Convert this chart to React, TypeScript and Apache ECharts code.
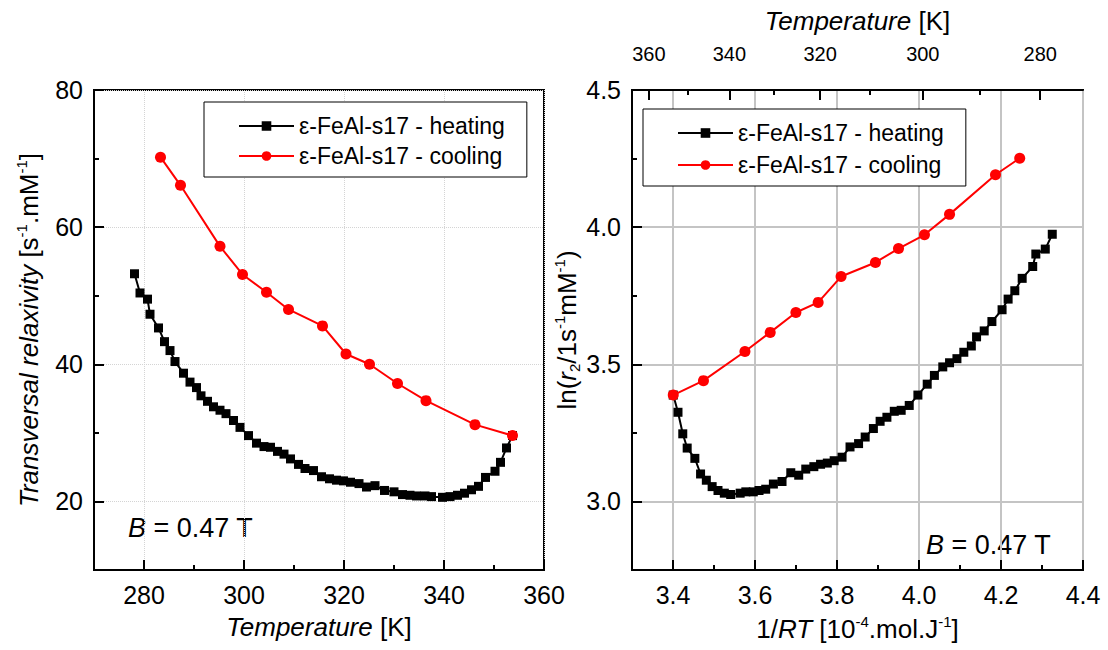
import React, { useEffect, useRef } from "react";
import * as echarts from "echarts";

// ---- data ----
const heatingT = [
  278.1, 279.2, 280.7, 281.2, 282.9, 284.1, 285.2, 286.2, 287.9, 289.2, 290.5, 291.4, 292.7, 293.9,
  295.2, 296.4, 297.9, 299.2, 300.9, 302.5, 304.0, 305.3, 306.7, 308.0, 309.3, 310.9, 312.2, 313.9,
  315.5, 317.1, 318.5, 319.9, 321.3, 323.0, 324.5, 326.2, 328.1, 330.0, 331.7, 333.2, 334.5, 336.2,
  337.5, 339.7, 341.2, 342.7, 344.1, 345.5, 346.9, 348.3, 350.2, 351.3, 352.5, 353.7,
];
const heatingR2 = [
  53.2, 50.4, 49.5, 47.3, 45.3, 43.3, 42.0, 40.4, 38.7, 37.4, 36.6, 35.4, 34.6, 33.8,
  33.3, 32.8, 31.8, 30.8, 29.6, 28.5, 28.0, 27.9, 27.3, 26.9, 26.2, 25.4, 24.8, 24.5,
  23.6, 23.3, 23.1, 23.0, 22.8, 22.6, 22.1, 22.3, 21.6, 21.4, 21.0, 20.9, 20.8, 20.8,
  20.7, 20.6, 20.7, 20.9, 21.2, 21.7, 22.2, 23.5, 24.4, 25.7, 27.8, 29.6,
];
const coolingT = [353.7, 346.2, 336.4, 330.7, 325.1, 320.4, 315.7, 308.9, 304.5, 299.7, 295.2, 287.3, 283.3];
const coolingR2 = [29.6, 31.2, 34.7, 37.2, 40.0, 41.5, 45.6, 48.0, 50.5, 53.1, 57.2, 66.1, 70.2];

const seriesNames = ["ε-FeAl-s17 - heating", "ε-FeAl-s17 - cooling"];

// axis ticks
const leftXMajor = [280, 300, 320, 340, 360];
const leftYMajor = [20, 40, 60, 80];
const rightXMajor = [3.4, 3.6, 3.8, 4.0, 4.2, 4.4];
const rightYMajor = [3.0, 3.5, 4.0, 4.5];
const topTempMajor = [360, 340, 320, 300, 280];
const topTempMinor = [350, 330, 310, 290];

const R = 8.314; // J/(mol K)
const invRT = (t: number) => 1e4 / (R * t); // in 1e-4 mol/J

const FONT = "'Liberation Sans', Arial, sans-serif";

const rich = {
  i: { fontStyle: "italic", fontSize: 26, fontFamily: FONT, color: "#000" },
  sup: { fontSize: 15, verticalAlign: "top", fontFamily: FONT, color: "#000", lineHeight: 30 },
  sub: { fontSize: 15, verticalAlign: "bottom", fontFamily: FONT, color: "#000", lineHeight: 30 },
};

const nameStyle = { fontSize: 26, fontFamily: FONT, color: "#000", rich, lineHeight: 30 };
const labelStyle = (size: number, margin: number) => ({ fontSize: size, fontFamily: FONT, color: "#000", margin });

export default function App() {
  const ref = useRef<HTMLDivElement>(null);
  useEffect(() => {
    if (!ref.current) return;
    const chart = echarts.init(ref.current, undefined, { renderer: "svg" });

    const leftHeat = heatingT.map((t, i) => [t, heatingR2[i]]);
    const leftCool = coolingT.map((t, i) => [t, coolingR2[i]]);
    const rightHeat = heatingT.map((t, i) => [invRT(t), Math.log(heatingR2[i])]);
    const rightCool = coolingT.map((t, i) => [invRT(t), Math.log(coolingR2[i])]);

    const axLine = { show: true, lineStyle: { color: "#000", width: 2 } };
    const noLine = { show: false };

    const option: any = {
      animation: false,
      backgroundColor: "#fff",
      textStyle: { fontFamily: FONT },
      grid: [
        { left: 94, top: 90, width: 450, height: 480, show: true, borderColor: "#000", borderWidth: 2, backgroundColor: "transparent" },
        { left: 632, top: 90, width: 451, height: 480, show: true, borderColor: "#000", borderWidth: 2, backgroundColor: "transparent" },
      ],
      xAxis: [
        {
          gridIndex: 0, type: "value", min: 270, max: 360, position: "bottom",
          axisLine: axLine,
          axisTick: { show: true, inside: true, length: 10, customValues: leftXMajor, lineStyle: { color: "#000", width: 2 } },
          axisLabel: { ...labelStyle(25, 12), customValues: leftXMajor },
          splitLine: { show: true, lineStyle: { color: "#d4d4d4", type: "dotted", width: 1 } },
          name: "{i|Temperature} [K]", nameLocation: "middle", nameGap: 31, nameTextStyle: nameStyle,
        },
        {
          gridIndex: 0, type: "value", min: 270, max: 360, interval: 10, position: "bottom",
          axisLine: noLine, axisLabel: { show: false }, splitLine: { show: false },
          axisTick: { show: true, inside: true, length: 5, lineStyle: { color: "#000", width: 2 } },
        },
        {
          gridIndex: 1, type: "value", min: 3.3, max: 4.4, position: "bottom",
          axisLine: axLine,
          axisTick: { show: true, inside: true, length: 10, customValues: rightXMajor, lineStyle: { color: "#000", width: 2 } },
          axisLabel: { ...labelStyle(25, 12), customValues: rightXMajor, formatter: (v: number) => v.toFixed(1) },
          splitLine: { show: true, lineStyle: { color: "#c4c4c4", type: "solid", width: 2 } },
          name: "1/{i|RT} [10{sup|-4}.mol.J{sup|-1}]", nameLocation: "middle", nameGap: 44, nameTextStyle: nameStyle,
        },
        {
          gridIndex: 1, type: "value", min: 3.3, max: 4.4, interval: 0.1, position: "bottom",
          axisLine: noLine, axisLabel: { show: false }, splitLine: { show: false },
          axisTick: { show: true, inside: true, length: 5, lineStyle: { color: "#000", width: 2 } },
        },
        {
          gridIndex: 1, type: "value", min: 3.3, max: 4.4, position: "top",
          axisLine: axLine,
          axisTick: { show: true, inside: true, length: 10, customValues: topTempMajor.map(invRT), lineStyle: { color: "#000", width: 2 } },
          axisLabel: { ...labelStyle(20, 26), customValues: topTempMajor.map(invRT), formatter: (v: number) => String(Math.round(1e4 / (R * v))) },
          splitLine: { show: false },
          name: "{i|Temperature} [K]", nameLocation: "middle", nameGap: 54, nameTextStyle: nameStyle,
        },
        {
          gridIndex: 1, type: "value", min: 3.3, max: 4.4, position: "top",
          axisLine: noLine, axisLabel: { show: false }, splitLine: { show: false },
          axisTick: { show: true, inside: true, length: 5, customValues: topTempMinor.map(invRT), lineStyle: { color: "#000", width: 2 } },
        },
      ],
      yAxis: [
        {
          gridIndex: 0, type: "value", min: 10, max: 80, position: "left",
          axisLine: axLine,
          axisTick: { show: true, inside: true, length: 10, customValues: leftYMajor, lineStyle: { color: "#000", width: 2 } },
          axisLabel: { ...labelStyle(25, 11), customValues: leftYMajor },
          splitLine: { show: true, lineStyle: { color: "#d4d4d4", type: "dotted", width: 1 } },
          name: "{i|Transversal relaxivity} [s{sup|-1}.mM{sup|-1}]", nameLocation: "middle", nameGap: 50, nameTextStyle: nameStyle,
        },
        {
          gridIndex: 0, type: "value", min: 10, max: 80, interval: 10, position: "left",
          axisLine: noLine, axisLabel: { show: false }, splitLine: { show: false },
          axisTick: { show: true, inside: true, length: 5, lineStyle: { color: "#000", width: 2 } },
        },
        {
          gridIndex: 1, type: "value", min: 2.75, max: 4.5, position: "left",
          axisLine: axLine,
          axisTick: { show: true, inside: true, length: 10, customValues: rightYMajor, lineStyle: { color: "#000", width: 2 } },
          axisLabel: { ...labelStyle(25, 11), customValues: rightYMajor, formatter: (v: number) => v.toFixed(1) },
          splitLine: { show: true, lineStyle: { color: "#c4c4c4", type: "solid", width: 2 } },
          name: "ln({i|r}{sub|2}/1s{sup|-1}mM{sup|-1})", nameLocation: "middle", nameGap: 36, nameTextStyle: nameStyle,
        },
        {
          gridIndex: 1, type: "value", min: 2.75, max: 4.5, interval: 0.25, position: "left",
          axisLine: noLine, axisLabel: { show: false }, splitLine: { show: false },
          axisTick: { show: true, inside: true, length: 5, lineStyle: { color: "#000", width: 2 } },
        },
      ],
      legend: [
        {
          orient: "vertical", left: 204, top: 102, data: seriesNames,
          padding: [11, 22, 8, 34], itemGap: 4, itemWidth: 55, itemHeight: 12,
          borderColor: "#000", borderWidth: 1, backgroundColor: "#fff",
          textStyle: { fontSize: 23, fontFamily: FONT, color: "#000", lineHeight: 26 },
          selectedMode: false,
        },
        {
          orient: "vertical", left: 643, top: 109, data: seriesNames,
          padding: [11, 22, 8, 34], itemGap: 6, itemWidth: 55, itemHeight: 12,
          borderColor: "#000", borderWidth: 1, backgroundColor: "#fff",
          textStyle: { fontSize: 23, fontFamily: FONT, color: "#000", lineHeight: 26 },
          selectedMode: false,
        },
      ],
      graphic: [
        {
          type: "text", x: 128, y: 528,
          style: {
            text: "{b|B} = 0.47 T", fontSize: 27, fontFamily: FONT, fill: "#000", verticalAlign: "middle",
            rich: { b: { fontStyle: "italic", fontSize: 27, fontFamily: FONT, fill: "#000" } },
          },
        },
        {
          type: "text", x: 926, y: 545,
          style: {
            text: "{b|B} = 0.47 T", fontSize: 27, fontFamily: FONT, fill: "#000", verticalAlign: "middle",
            rich: { b: { fontStyle: "italic", fontSize: 27, fontFamily: FONT, fill: "#000" } },
          },
        },
      ],
      series: [
        {
          name: seriesNames[0], type: "line", xAxisIndex: 0, yAxisIndex: 0, data: leftHeat,
          symbol: "rect", symbolSize: 9, itemStyle: { color: "#000" }, lineStyle: { color: "#000", width: 2 },
        },
        {
          name: seriesNames[1], type: "line", xAxisIndex: 0, yAxisIndex: 0, data: leftCool,
          symbol: "circle", symbolSize: 11, itemStyle: { color: "#ff0000" }, lineStyle: { color: "#ff0000", width: 2 },
        },
        {
          name: seriesNames[0], type: "line", xAxisIndex: 2, yAxisIndex: 2, data: rightHeat,
          symbol: "rect", symbolSize: 9, itemStyle: { color: "#000" }, lineStyle: { color: "#000", width: 2 },
        },
        {
          name: seriesNames[1], type: "line", xAxisIndex: 2, yAxisIndex: 2, data: rightCool,
          symbol: "circle", symbolSize: 11, itemStyle: { color: "#ff0000" }, lineStyle: { color: "#ff0000", width: 2 },
        },
      ],
    };
    chart.setOption(option);
    return () => chart.dispose();
  }, []);
  return <div ref={ref} style={{ position: "fixed", left: 0, top: 0, width: 1108, height: 650 }} />;
}
